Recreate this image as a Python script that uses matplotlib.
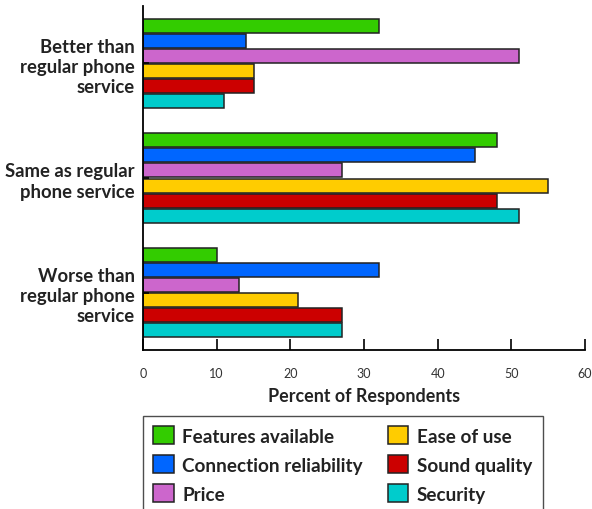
import matplotlib
matplotlib.use("Agg")
import matplotlib.pyplot as plt
import numpy as np

plt.rcParams['font.family'] = ['Lato', 'DejaVu Sans']

groups = ["Better than\nregular phone\nservice", "Same as regular\nphone service",
          "Worse than\nregular phone\nservice"]
series = ["Features available", "Connection reliability", "Price",
          "Ease of use", "Sound quality", "Security"]
features = [32, 48, 10]
connection = [14, 45, 32]
price = [51, 27, 13]
ease = [15, 55, 21]
sound = [15, 48, 27]
security = [11, 51, 27]
colors = ["#33cc00", "#0066ff", "#cc66cc", "#ffcc00", "#cc0000", "#00cccc"]
xticks = [0, 10, 20, 30, 40, 50, 60]

values = [features, connection, price, ease, sound, security]

fig = plt.figure(figsize=(5.92, 5.10), dpi=100)
ax = fig.add_axes([143/592, 1-351/510, 442/592, 344/510])

y = np.arange(len(groups))
step = 0.131
h = 0.122
handles = []
for i, (vals, c, name) in enumerate(zip(values, colors, series)):
    off = (i - 2.5) * step
    b = ax.barh(y + off, vals, height=h, color=c, edgecolor="#222222",
                linewidth=1.1, label=name)
    handles.append(b)

ax.set_xlim(0, 60)
ax.set_ylim(2.5, -0.5)
ax.set_xticks(xticks)
ax.set_xticklabels([str(t) for t in xticks], fontsize=9, color="#333333")
ax.set_yticks(y)
ax.set_yticklabels(groups, fontsize=13.3, fontweight="bold", color="#222222",
                   linespacing=1.22)
ax.tick_params(axis="x", direction="in", length=8, width=1.2, pad=12)
ax.tick_params(axis="y", direction="in", length=4, width=1.2, pad=6)
for s in ("top", "right"):
    ax.spines[s].set_visible(False)
for s in ("left", "bottom"):
    ax.spines[s].set_linewidth(1.3)
ax.set_xlabel("Percent of Respondents", fontsize=12.9, fontweight="bold",
              color="#222222", labelpad=6)

leg = fig.legend(handles=handles, labels=series, ncol=2,
                 loc="upper left", bbox_to_anchor=(143/592, 1-417/510),
                 frameon=True, fancybox=False, edgecolor="#222222",
                 prop={"size": 13.6, "weight": "bold"},
                 handlelength=1.07, handleheight=1.07, handletextpad=0.45,
                 labelspacing=0.56, columnspacing=1.35, borderpad=0.55,
                 borderaxespad=0)
leg.get_frame().set_linewidth(1.0)
for t in leg.get_texts():
    t.set_color("#222222")

fig.savefig("out.png", dpi=100)
